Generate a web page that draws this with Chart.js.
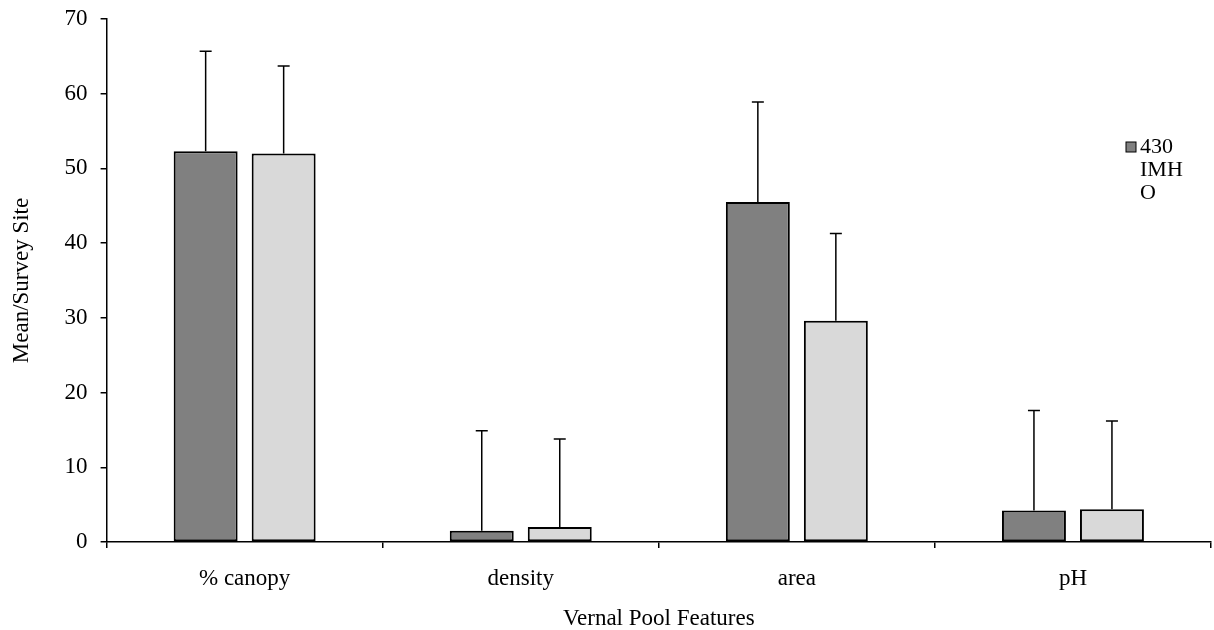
<!DOCTYPE html>
<html lang="en">
<head>
  <meta charset="UTF-8">
  <title>Vernal Pool Features</title>
  <script src="https://cdn.jsdelivr.net/npm/chart.js"></script>
  <style>
    body {
      margin: 0;
      background: #fff;
    }
    #chart {
      display: block;
    }
  </style>
</head>
<body>

<canvas id="chart" width="1214" height="630"></canvas>

<script>
  const features = ['% canopy', 'density', 'area', 'pH'];
  const seriesA = [52.3, 1.5, 45.5, 4.2];     // dark bars
  const seriesAErr = [13.4, 13.4, 13.4, 13.4];
  const seriesB = [52.0, 2.0, 29.6, 4.4];     // light bars
  const seriesBErr = [11.7, 11.8, 11.7, 11.8];
  const legendLines = ['430', 'IMH', 'O'];
  const yTicks = [0, 10, 20, 30, 40, 50, 60, 70];

  const serif = "'Liberation Serif', 'Times New Roman', serif";

  // upward-only error bars with caps
  const errorBars = {
    id: 'errorBars',
    afterDatasetsDraw(chart) {
      const ctx = chart.ctx;
      const y = chart.scales.y;
      ctx.save();
      ctx.strokeStyle = '#000';
      ctx.lineWidth = 1.5;
      chart.data.datasets.forEach((ds, di) => {
        const meta = chart.getDatasetMeta(di);
        meta.data.forEach((bar, i) => {
          const top = y.getPixelForValue(ds.data[i] + ds.errors[i]);
          ctx.beginPath();
          ctx.moveTo(bar.x, bar.y);
          ctx.lineTo(bar.x, top);
          ctx.moveTo(bar.x - 6, top);
          ctx.lineTo(bar.x + 6, top);
          ctx.stroke();
        });
      });
      ctx.restore();
    }
  };

  // the clipped legend box of the original
  const boxLegend = {
    id: 'boxLegend',
    afterDraw(chart) {
      const ctx = chart.ctx;
      const area = chart.chartArea;
      const x = area.right - 85;
      const y = area.top + 128;
      ctx.save();
      ctx.fillStyle = '#808080';
      ctx.strokeStyle = '#000';
      ctx.lineWidth = 1;
      ctx.fillRect(x, y - 5, 10, 10);
      ctx.strokeRect(x, y - 5, 10, 10);
      ctx.fillStyle = '#000';
      ctx.font = '22px ' + serif;
      ctx.textBaseline = 'middle';
      legendLines.forEach((line, i) => ctx.fillText(line, x + 14, y + i * 23));
      ctx.restore();
    }
  };

  new Chart(document.getElementById('chart'), {
    type: 'bar',
    data: {
      labels: features,
      datasets: [{
        label: '430 IMHO',
        data: seriesA,
        errors: seriesAErr,
        backgroundColor: '#808080',
        borderColor: '#000',
        borderWidth: 2,
        borderSkipped: false,
        barPercentage: 0.82,
        categoryPercentage: 0.565
      }, {
        label: '',
        data: seriesB,
        errors: seriesBErr,
        backgroundColor: '#d9d9d9',
        borderColor: '#000',
        borderWidth: 2,
        borderSkipped: false,
        barPercentage: 0.82,
        categoryPercentage: 0.565
      }]
    },
    options: {
      responsive: false,
      animation: false,
      layout: { padding: { top: 0, right: 3, left: 0, bottom: 0 } },
      plugins: {
        legend: { display: false },
        tooltip: { enabled: false }
      },
      scales: {
        x: {
          afterFit(scale) {
            scale.height = 88;
          },
          border: { color: '#000', width: 1.5 },
          grid: { display: true, drawOnChartArea: false, tickLength: 6, color: '#000', lineWidth: 1.5 },
          ticks: { color: '#000', font: { family: serif, size: 23 }, padding: 17 },
          title: {
            display: true,
            text: 'Vernal Pool Features',
            color: '#000',
            font: { family: serif, size: 23 },
            padding: { top: 12, bottom: -3 }
          }
        },
        y: {
          min: 0,
          max: 70,
          afterBuildTicks(scale) {
            scale.ticks = yTicks.map(v => ({ value: v }));
          },
          afterFit(scale) {
            scale.paddingTop = 19;
          },
          border: { color: '#000', width: 1.5 },
          grid: { display: true, drawOnChartArea: false, tickLength: 6, color: '#000', lineWidth: 1.5 },
          ticks: { color: '#000', font: { family: serif, size: 23 }, padding: 13 },
          title: {
            display: true,
            text: 'Mean/Survey Site',
            color: '#000',
            font: { family: serif, size: 23 },
            padding: { top: 8, bottom: 16 }
          }
        }
      }
    },
    plugins: [errorBars, boxLegend]
  });
</script>

</body>
</html>
